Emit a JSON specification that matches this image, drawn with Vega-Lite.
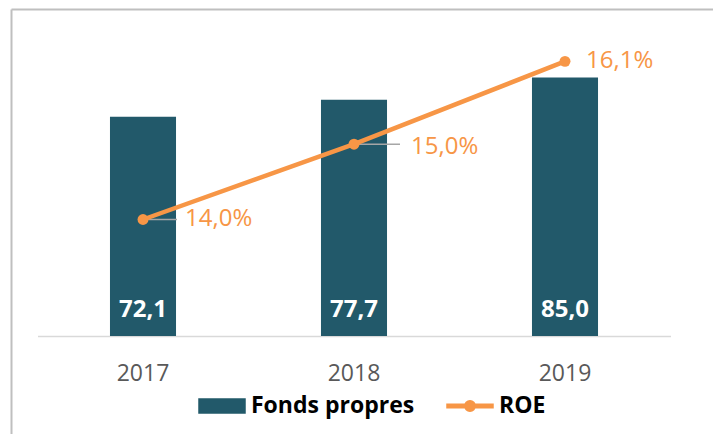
{
  "$schema": "https://vega.github.io/schema/vega-lite/v6.json",
  "width": 702,
  "height": 425,
  "autosize": {"type": "none"},
  "padding": {"left": 11, "top": 9, "right": 0, "bottom": 0},
  "background": "white",
  "config": {
    "view": {"stroke": null},
    "font": "Open Sans",
    "locale": {"number": {"decimal": ",", "thousands": " ", "grouping": [3], "currency": ["", " €"]}}
  },
  "data": {
    "values": [
      {"year": "2017", "fp": 72.1, "roe": 0.140},
      {"year": "2018", "fp": 77.7, "roe": 0.150},
      {"year": "2019", "fp": 85.0, "roe": 0.161}
    ]
  },
  "layer": [
    {
      "encoding": {
        "x": {
          "field": "year",
          "type": "nominal",
          "scale": {"range": [26.5, 659.5], "paddingInner": 0.687, "paddingOuter": 0.3435},
          "axis": {
            "title": null,
            "orient": "bottom",
            "offset": -98,
            "labelAngle": 0,
            "ticks": false,
            "grid": false,
            "domainColor": "#d9d9d9",
            "domainWidth": 1.5,
            "labelFont": "Open Sans",
            "labelFontSize": 23,
            "labelColor": "#595959",
            "labelPadding": 26
          }
        }
      },
      "layer": [
        {
          "encoding": {
            "y": {
              "field": "fp",
              "type": "quantitative",
              "scale": {"domain": [0, 100], "range": [327, 23], "nice": false},
              "axis": null
            }
          },
          "layer": [
            {
              "mark": {"type": "bar"},
              "encoding": {
                "color": {
                  "datum": "Fonds propres",
                  "scale": {"domain": ["Fonds propres", "ROE"], "range": ["#22596A", "#F79646"]},
                  "legend": {
                    "title": null,
                    "orient": "none",
                    "legendX": 187,
                    "legendY": 373,
                    "direction": "horizontal",
                    "padding": 0,
                    "labelFont": "Open Sans",
                    "labelFontSize": 23,
                    "labelFontWeight": "bold",
                    "labelColor": "#000000",
                    "labelOffset": 5,
                    "labelLimit": 400,
                    "columnPadding": 29,
                    "symbolSize": 2116,
                    "encode": {
                      "symbols": {
                        "update": {
                          "shape": {"signal": "datum.value === 'ROE' ? 'M-1,-0.08H1V0.08H-1Z M-0.23,0A0.23,0.23 0 1,1 0.23,0A0.23,0.23 0 1,1 -0.23,0Z' : 'M-1,-0.3H1V0.3H-1Z'"},
                          "fill": {"signal": "datum.value === 'ROE' ? '#F79646' : '#22596A'"},
                          "stroke": {"value": "transparent"},
                          "opacity": {"value": 1},
                          "fillOpacity": {"value": 1}
                        }
                      }
                    }
                  }
                }
              }
            },
            {
              "mark": {"type": "text", "baseline": "alphabetic", "align": "center", "dy": -19, "font": "Open Sans", "fontSize": 24, "fontWeight": "bold", "color": "white"},
              "encoding": {
                "y": {"datum": 0},
                "text": {"field": "fp", "type": "quantitative", "format": ".1f"}
              }
            }
          ]
        },
        {
          "encoding": {
            "y": {
              "field": "roe",
              "type": "quantitative",
              "scale": {"domain": [0.12, 0.17], "range": [361.1, -15.4], "nice": false, "zero": false},
              "axis": null
            }
          },
          "layer": [
            {
              "transform": [{"filter": "datum.year === '2017'"}],
              "mark": {"type": "rule", "color": "#a6a6a6", "strokeWidth": 1.5, "x2Offset": 34},
              "encoding": {"x2": {"field": "year"}}
            },
            {
              "transform": [{"filter": "datum.year === '2018'"}],
              "mark": {"type": "rule", "color": "#a6a6a6", "strokeWidth": 1.5, "x2Offset": 46},
              "encoding": {"x2": {"field": "year"}}
            },
            {
              "mark": {"type": "line", "strokeWidth": 4.5, "point": {"filled": true, "size": 120, "opacity": 1}},
              "encoding": {"color": {"datum": "ROE"}}
            },
            {
              "transform": [{"filter": "datum.year === '2017'"}],
              "mark": {"type": "text", "align": "left", "baseline": "middle", "dx": 42, "dy": -1, "font": "Open Sans", "fontSize": 24, "color": "#F79646"},
              "encoding": {"text": {"field": "roe", "type": "quantitative", "format": ".1%"}}
            },
            {
              "transform": [{"filter": "datum.year === '2018'"}],
              "mark": {"type": "text", "align": "left", "baseline": "middle", "dx": 57, "dy": 3, "font": "Open Sans", "fontSize": 24, "color": "#F79646"},
              "encoding": {"text": {"field": "roe", "type": "quantitative", "format": ".1%"}}
            },
            {
              "transform": [{"filter": "datum.year === '2019'"}],
              "mark": {"type": "text", "align": "left", "baseline": "middle", "dx": 21, "dy": 0, "font": "Open Sans", "fontSize": 24, "color": "#F79646"},
              "encoding": {"text": {"field": "roe", "type": "quantitative", "format": ".1%"}}
            }
          ],
          "resolve": {"scale": {"y": "shared"}}
        }
      ],
      "resolve": {"scale": {"y": "independent"}, "axis": {"y": "independent"}}
    },
    {
      "mark": {"type": "point", "opacity": 0},
      "encoding": {
        "x": {
          "field": "fp",
          "type": "quantitative",
          "scale": {"domain": [0, 100], "nice": false, "zero": true},
          "axis": {"orient": "top", "title": null, "labels": false, "ticks": false, "grid": false, "domainColor": "#bfbfbf", "domainWidth": 2}
        },
        "y": {
          "field": "fp",
          "type": "quantitative",
          "scale": {"domain": [0, 100], "nice": false, "zero": true},
          "axis": {"orient": "left", "title": null, "labels": false, "ticks": false, "grid": false, "domainColor": "#bfbfbf", "domainWidth": 2}
        }
      }
    }
  ],
  "resolve": {"scale": {"x": "independent", "y": "independent"}, "axis": {"x": "independent", "y": "independent"}}
}
